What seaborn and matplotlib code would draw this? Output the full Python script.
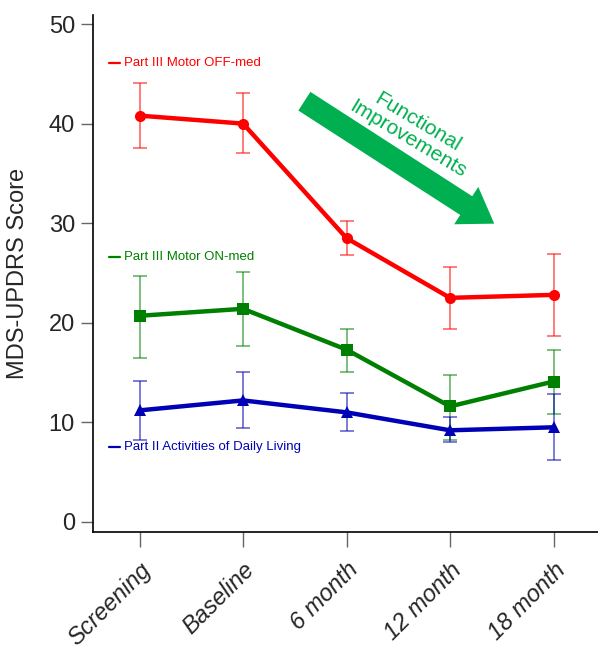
import matplotlib
matplotlib.use("Agg")
import matplotlib.pyplot as plt
import seaborn as sns
import pandas as pd
import numpy as np

# visits
visits = ["Screening", "Baseline", "6 month", "12 month", "18 month"]

# Part III Motor OFF-med
off_mean = [40.8, 40.0, 28.5, 22.5, 22.8]
off_low = [37.5, 37.0, 26.8, 19.4, 18.7]
off_high = [44.1, 43.1, 30.2, 25.6, 26.9]

# Part III Motor ON-med
on_mean = [20.7, 21.4, 17.3, 11.6, 14.1]
on_low = [16.5, 17.7, 15.1, 8.2, 10.8]
on_high = [24.7, 25.1, 19.4, 14.8, 17.3]

# Part II Activities of Daily Living
adl_mean = [11.2, 12.2, 11.0, 9.2, 9.5]
adl_low = [8.2, 9.4, 9.1, 8.0, 6.2]
adl_high = [14.2, 15.1, 12.9, 10.5, 12.8]

series_names = ["Part III Motor OFF-med", "Part III Motor ON-med",
                "Part II Activities of Daily Living"]
series_colors = ["#ff0000", "#008000", "#0000b4"]
series_markers = ["o", "s", "^"]
label_y = [46.1, 26.6, 7.5]

sns.set_style("ticks")
plt.rcParams["font.family"] = ["Liberation Sans", "DejaVu Sans"]

rows = []
for name, m in zip(series_names, [off_mean, on_mean, adl_mean]):
    for i, v in enumerate(m):
        rows.append({"series": name, "visit": i, "score": v})
df = pd.DataFrame(rows)

fig = plt.figure(figsize=(5.98, 6.55), dpi=100)
ax = fig.add_axes([0.1555, 0.188, 0.8445, 0.789])

# error bars first, so the lines sit on top
for m, lo, hi, c in zip([off_mean, on_mean, adl_mean],
                        [off_low, on_low, adl_low],
                        [off_high, on_high, adl_high], series_colors):
    m = np.array(m)
    yerr = [m - np.array(lo), np.array(hi) - m]
    ax.errorbar(range(len(visits)), m, yerr=yerr, fmt="none", ecolor=c,
                alpha=0.6, elinewidth=1.2, capsize=5, capthick=1.2, zorder=2)

sns.lineplot(data=df, x="visit", y="score", hue="series", style="series",
             palette=dict(zip(series_names, series_colors)),
             markers=dict(zip(series_names, series_markers)),
             dashes=False, linewidth=3.2, markersize=8, markeredgewidth=0,
             legend=False, ax=ax, zorder=3)

# inline series labels
for name, c, yy in zip(series_names, series_colors, label_y):
    ax.plot([-0.3, -0.19], [yy, yy], color=c, lw=1.6, clip_on=False)
    ax.text(-0.15, yy, name, color=c, fontsize=9.5, va="center")

# trend arrow
ax.annotate("", xy=(3.45, 29.8), xytext=(1.57, 42.4),
            arrowprops=dict(arrowstyle="simple,head_length=1.2,head_width=1.6,tail_width=0.8",
                            color="#00b050", lw=0, mutation_scale=20))
ax.text(2.64, 39.3, "Functional\nImprovements", color="#00b050", fontsize=15,
        rotation=-31, ha="center", va="center", linespacing=1.0,
        rotation_mode="anchor")

ax.set_xlim(-0.45, 4.43)
ax.set_ylim(-1.0, 50.9)
ax.set_yticks([0, 10, 20, 30, 40, 50])
ax.set_xticks(range(len(visits)))
ax.set_xticklabels(visits, rotation=45, ha="right", rotation_mode="anchor",
                   fontsize=17, style="italic")
ax.tick_params(axis="y", labelsize=17, length=9, width=1, color="#666666", pad=4)
ax.tick_params(axis="x", length=11, width=1, color="#666666", pad=8)
ax.set_xlabel("")
ax.set_ylabel("MDS-UPDRS Score", fontsize=17, labelpad=14)
sns.despine(ax=ax)
for s in ["left", "bottom"]:
    ax.spines[s].set_linewidth(1.2)
    ax.spines[s].set_color("black")

fig.savefig("out.png", dpi=100)
